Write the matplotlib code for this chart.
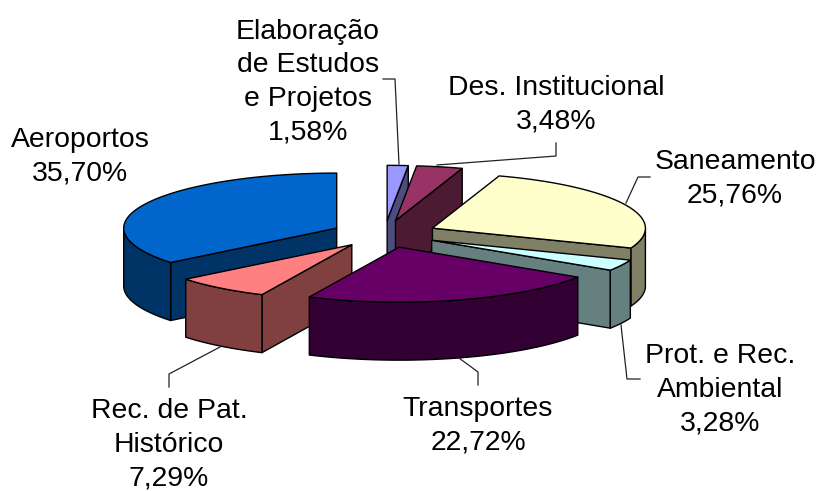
import numpy as np
import matplotlib
matplotlib.use('Agg')
import matplotlib.pyplot as plt
from matplotlib.colors import to_rgb

plt.rcParams['font.family'] = ['Liberation Sans', 'DejaVu Sans']

# clockwise from 12 o'clock
labels = ['Elaboração\nde Estudos\ne Projetos\n1,58%', 'Des. Institucional\n3,48%', 'Saneamento\n25,76%',
          'Prot. e Rec.\nAmbiental\n3,28%', 'Transportes\n22,72%', 'Rec. de Pat.\nHistórico\n7,29%',
          'Aeroportos\n35,70%']
values = [1.58, 3.48, 25.76, 3.28, 22.72, 7.29, 35.70]
colors = ['#9999FF', '#993366', '#FFFFCC', '#CCFFFF', '#660066', '#FF8080', '#0066CC']

# label centres and leader lines, in pixels
label_pos = [(308, 82), (556, 105), (735, 179), (720, 390), (478, 426), (169, 445), (80, 157)]
leaders = [[(383, 79), (395, 79), (399, 164)],
           [(556, 143), (556, 156), (437, 165)],
           [(650, 177), (638, 177), (626, 203)],
           [(640, 379), (627, 379), (621, 325)],
           [(478, 385), (478, 372), (459, 358)],
           [(169, 387), (169, 374), (220, 347)],
           None]

cx, cy = 384.5, 234
rx, ry = 213, 55
depth = 58
explode = 53


def rim(apex, t1, t2):
    t = np.linspace(t1, t2, max(int(abs(t2 - t1) * 40), 2))
    return apex[0] + rx * np.sin(t), apex[1] - ry * np.cos(t)


def draw_face(ax, x, y, color):
    ax.fill(x, y, facecolor=color, edgecolor='black', linewidth=1.0, joinstyle='round')


fig = plt.figure(figsize=(8.18, 4.91), dpi=100)
ax = fig.add_axes([0, 0, 1, 1])
ax.set_xlim(0, 818)
ax.set_ylim(491, 0)
ax.axis('off')

edges = np.cumsum([0] + values) / sum(values) * 2 * np.pi
slices = []
for i in range(len(values)):
    t1, t2 = edges[i], edges[i + 1]
    mid = (t1 + t2) / 2
    apex = (cx + explode * np.sin(mid), cy - explode * ry / rx * np.cos(mid))
    slices.append((apex, t1, t2, colors[i]))

# back to front
for apex, t1, t2, color in sorted(slices, key=lambda s: s[0][1]):
    side = tuple(c * 0.5 for c in to_rgb(color))
    # cut faces turned to the viewer
    for t, visible in ((t1, np.sin(t1) < 0), (t2, np.sin(t2) > 0)):
        if visible:
            xr, yr = rim(apex, t, t)
            xr, yr = xr[0], yr[0]
            draw_face(ax, [apex[0], xr, xr, apex[0]], [apex[1], yr, yr + depth, apex[1] + depth], side)
    # outer wall, front half only
    a, b = max(t1, np.pi / 2), min(t2, 3 * np.pi / 2)
    if b > a:
        xr, yr = rim(apex, a, b)
        draw_face(ax, np.r_[xr, xr[::-1]], np.r_[yr, yr[::-1] + depth], side)
    # top
    xr, yr = rim(apex, t1, t2)
    draw_face(ax, np.r_[apex[0], xr], np.r_[apex[1], yr], color)

for line in leaders:
    if line:
        ax.plot(*zip(*line), color='#222222', linewidth=0.9)

for text, pos in zip(labels, label_pos):
    ax.text(pos[0], pos[1], text, ha='center', va='center', ma='center', fontsize=20.4, linespacing=1.38, color='black')

fig.savefig('out.png', dpi=100, facecolor='white')
plt.close('all')
